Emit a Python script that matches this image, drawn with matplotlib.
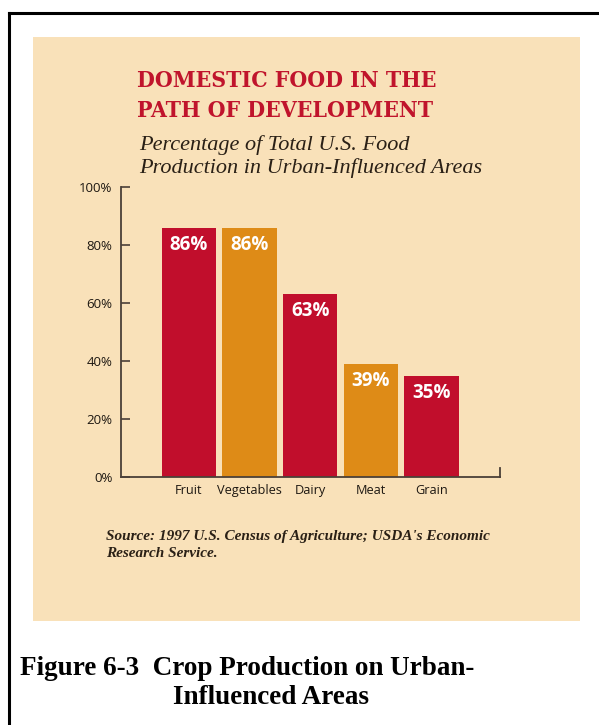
"""Bar chart: domestic food production in urban-influenced areas."""

import matplotlib

matplotlib.use("Agg")
import matplotlib.pyplot as plt
from matplotlib.lines import Line2D
from matplotlib.patches import Rectangle


CATEGORIES = ["Fruit", "Vegetables", "Dairy", "Meat", "Grain"]
SHARE_PCT = [86, 86, 63, 39, 35]
Y_TICKS = [0, 20, 40, 60, 80, 100]

RED = "#C10E2C"
ORANGE = "#DE8B17"
BAR_COLORS = [RED, ORANGE, RED, ORANGE, RED]
PANEL = "#F9E1B9"
AXIS = "#4b4038"
TEXT_DARK = "#2a2016"
TICK_TEXT = "#1e1812"

W, H = 599, 725
SANS = "Open Sans"


def fx(x):
    return x / W


def fy(y):
    return 1 - y / H


fig = plt.figure(figsize=(W / 100, H / 100), dpi=100)
fig.patch.set_facecolor("white")

# beige panel and outer frame
fig.patches.append(Rectangle((fx(33), fy(621)), fx(580) - fx(33), fy(37) - fy(621),
                             transform=fig.transFigure, facecolor=PANEL,
                             edgecolor="none", zorder=-5))
fig.lines.append(Line2D([fx(9), fx(9)], [fy(13), 0], transform=fig.transFigure,
                        color="black", lw=2.2))
fig.lines.append(Line2D([fx(9), 1], [fy(13), fy(13)], transform=fig.transFigure,
                        color="black", lw=2.2))

ax = fig.add_axes([fx(121), fy(477), fx(500) - fx(121), fy(187) - fy(477)])
ax.set_facecolor("none")
ax.set_zorder(2)

x = list(range(len(CATEGORIES)))
bars = ax.bar(x, SHARE_PCT, width=0.9, color=BAR_COLORS, zorder=2)
for rect, val in zip(bars, SHARE_PCT):
    ax.annotate(f"{val}%", (rect.get_x() + rect.get_width() / 2, rect.get_height()),
                xytext=(0, -12.3), textcoords="offset points", ha="center",
                va="center", color="white", fontsize=13.5, fontweight="bold",
                family=SANS, zorder=3)

ax.set_xlim(-1.12, 5.13)
ax.set_ylim(0, 100)
ax.set_xticks(x)
ax.set_xticklabels(CATEGORIES, family=SANS, fontsize=9.2, color=TICK_TEXT)
ax.set_yticks(Y_TICKS)
ax.set_yticklabels([f"{t}%" for t in Y_TICKS], family=SANS, fontsize=9.5,
                   color=TICK_TEXT)
ax.tick_params(axis="x", length=0, pad=5)
ax.tick_params(axis="y", direction="in", length=6.5, width=1.2, color=AXIS, pad=6)
for side in ("top", "right"):
    ax.spines[side].set_visible(False)
for side in ("left", "bottom"):
    ax.spines[side].set_color(AXIS)
    ax.spines[side].set_linewidth(1.3)
ax.plot([1, 1], [0, 0.03], transform=ax.transAxes, color=AXIS, lw=1.3,
        clip_on=False)

# titles
title_kw = dict(color="#C0142C", family="DejaVu Serif", fontstretch="condensed",
                fontweight="bold", fontsize=16.5, va="baseline")
fig.text(fx(137), fy(87), "DOMESTIC FOOD IN THE", **title_kw)
fig.text(fx(137), fy(117), "PATH OF DEVELOPMENT", **title_kw)
sub_kw = dict(color=TEXT_DARK, family="Liberation Serif", style="italic",
              fontsize=16, va="baseline")
fig.text(fx(139), fy(150), "Percentage of Total U.S. Food", **sub_kw)
fig.text(fx(139), fy(173), "Production in Urban-Influenced Areas", **sub_kw)

src_kw = dict(color=TEXT_DARK, family="Liberation Serif", style="italic",
              fontweight="bold", fontsize=11, va="baseline")
fig.text(fx(106), fy(540), "Source: 1997 U.S. Census of Agriculture; USDA's Economic",
         **src_kw)
fig.text(fx(106), fy(557), "Research Service.", **src_kw)

cap_kw = dict(color="black", family="Liberation Serif", fontweight="bold",
              fontsize=19.5, va="baseline")
fig.text(fx(20), fy(675), "Figure 6-3  Crop Production on Urban-", **cap_kw)
fig.text(fx(173), fy(704), "Influenced Areas", **cap_kw)

fig.savefig("out.png", dpi=100)
